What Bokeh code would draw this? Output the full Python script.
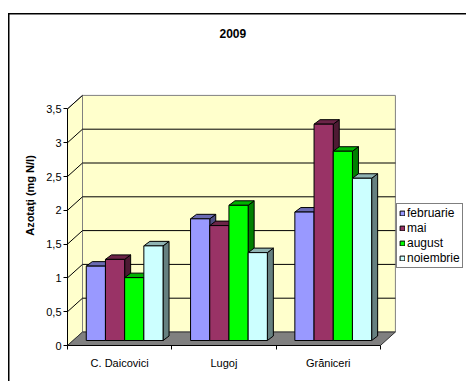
from bokeh.plotting import figure
from bokeh.models import Range1d, FixedTicker, Legend, LegendItem
from bokeh.embed import file_html
from bokeh.resources import INLINE

# ---------------- data ----------------
categories = ["C. Daicovici", "Lugoj", "Grăniceri"]
series_names = ["februarie", "mai", "august", "noiembrie"]
februarie = [1.1, 1.8, 1.9]
mai = [1.2, 1.7, 3.2]
august = [0.93, 2.0, 2.8]
noiembrie = [1.4, 1.3, 2.4]
y_ticks = [0, 0.5, 1, 1.5, 2, 2.5, 3, 3.5]
y_tick_labels = ["0", "0,5", "1", "1,5", "2", "2,5", "3", "3,5"]
title_text = "2009"
y_label = "Azotaţi (mg N/l)"

series_values = [februarie, mai, august, noiembrie]

# ---------------- styles ----------------
front_colors = ["#9999FF", "#993366", "#00FF00", "#CCFFFF"]
top_colors = ["#6B6BB3", "#6B2447", "#00B300", "#8FB3B3"]
side_colors = ["#4D4D80", "#4D1A33", "#008000", "#668080"]
wall_color = "#FFFFCC"
floor_color = "#808080"
FONT = "Liberation Sans"

W, H = 466, 381
BL, BR, BT, BB = 67, 0, 45, 36
frame_w = W - BL - BR
frame_h = H - BT - BB
PX_X = 104.3   # pixels per category
PX_Y = 67.6    # pixels per unit

x_end = frame_w / PX_X
y_end = frame_h / PX_Y
n_cat = len(categories)
y_max = y_ticks[-1]

WDX, WDY = 15 / PX_X, 13.5 / PX_Y      # wall depth
BDX, BDY = 5 / PX_X, 5 / PX_Y          # bar front offset
BDX2, BDY2 = 6 / PX_X, 4.5 / PX_Y      # bar depth
BW = 19.2 / PX_X                        # bar width

p = figure(width=W, height=H, output_backend="svg", toolbar_location=None,
           x_range=Range1d(0, x_end), y_range=Range1d(0, y_end),
           min_border_left=BL, min_border_right=BR,
           min_border_top=BT, min_border_bottom=BB)
p.outline_line_color = None
p.grid.visible = False
p.background_fill_color = "white"
p.border_fill_alpha = 0
# outer chart border (left and top edges visible, rest cropped)
p.styles = {
    "background-color": "white",
    "box-shadow": "inset 8px 13px 0 0 white, inset 9.5px 14.5px 0 0 black",
}

# walls and floor
p.quad(left=WDX, right=n_cat + WDX, bottom=WDY, top=y_max + WDY,
       fill_color=wall_color, line_color="#808080", line_width=1)
p.patch([0, WDX, WDX, 0], [0, WDY, y_max + WDY, y_max],
        fill_color=wall_color, line_color="#808080", line_width=1)
p.patch([0, n_cat, n_cat + WDX, WDX], [0, 0, WDY, WDY],
        fill_color=floor_color, line_color="#333333", line_width=1)

grid_vals = y_ticks[1:-1]
p.segment(x0=[WDX] * len(grid_vals), y0=[v + WDY for v in grid_vals],
          x1=[n_cat + WDX] * len(grid_vals), y1=[v + WDY for v in grid_vals],
          line_color="black", line_width=1)
diag_vals = y_ticks[1:]
p.segment(x0=[0] * len(diag_vals), y0=diag_vals,
          x1=[WDX] * len(diag_vals), y1=[v + WDY for v in diag_vals],
          line_color="black", line_width=1)

# bars
front_renderers = []
for s, vals in enumerate(series_values):
    lefts = [g + 0.5 + (s - 2) * BW + BDX for g in range(n_cat)]
    rights = [l + BW for l in lefts]
    tops = [v + BDY for v in vals]
    side_xs = [[r, r + BDX2, r + BDX2, r] for r in rights]
    side_ys = [[BDY, BDY + BDY2, t + BDY2, t] for t in tops]
    top_xs = [[l, r, r + BDX2, l + BDX2] for l, r in zip(lefts, rights)]
    top_ys = [[t, t, t + BDY2, t + BDY2] for t in tops]
    p.patches(side_xs, side_ys, fill_color=side_colors[s], line_color="black", line_width=1)
    p.patches(top_xs, top_ys, fill_color=top_colors[s], line_color="black", line_width=1)
    r = p.quad(left=lefts, right=rights, bottom=[BDY] * n_cat, top=tops,
               fill_color=front_colors[s], line_color="black", line_width=1)
    front_renderers.append(r)

# axes
xa = p.xaxis[0]
xa.bounds = (0, n_cat)
xa.ticker = FixedTicker(ticks=[g + 0.5 for g in range(n_cat)],
                        minor_ticks=list(range(n_cat + 1)))
xa.major_label_overrides = {g + 0.5: c for g, c in enumerate(categories)}
xa.major_tick_line_color = None
xa.major_tick_out = 0
xa.minor_tick_out = 4
xa.minor_tick_in = 0
xa.minor_tick_line_color = "black"
xa.axis_line_color = "black"
xa.major_label_standoff = 7
xa.major_label_text_font = FONT
xa.major_label_text_font_size = "11px"
xa.major_label_text_color = "black"

ya = p.yaxis[0]
ya.bounds = (0, y_max)
ya.ticker = FixedTicker(ticks=y_ticks, minor_ticks=[])
ya.major_label_overrides = {t: l for t, l in zip(y_ticks, y_tick_labels)}
ya.major_tick_out = 4
ya.major_tick_in = 0
ya.major_tick_line_color = "black"
ya.axis_line_color = "black"
ya.major_label_standoff = 2
ya.major_label_text_font = FONT
ya.major_label_text_font_size = "11px"
ya.major_label_text_color = "black"
ya.axis_label = y_label
ya.axis_label_text_font = FONT
ya.axis_label_text_font_size = "11px"
ya.axis_label_text_font_style = "bold"
ya.axis_label_text_color = "black"
ya.axis_label_standoff = 7

# title
p.title.text = title_text
p.title.align = "left"
p.title.offset = 152
p.title.standoff = 15
p.title.text_font = FONT
p.title.text_font_size = "12px"
p.title.text_font_style = "bold"
p.title.text_color = "black"

# legend
legend = Legend(items=[LegendItem(label=n, renderers=[r])
                       for n, r in zip(series_names, front_renderers)],
                location=(329, 77))
legend.border_line_color = "black"
legend.border_line_width = 1
legend.background_fill_color = "white"
legend.background_fill_alpha = 1
legend.glyph_width = 6
legend.glyph_height = 6
legend.label_text_font = FONT
legend.label_text_font_size = "12px"
legend.label_text_color = "black"
legend.label_height = 12
legend.spacing = 1
legend.padding = 2
legend.margin = 0
legend.label_standoff = 2
p.add_layout(legend)

open("out.html", "w").write(file_html(p, INLINE))
